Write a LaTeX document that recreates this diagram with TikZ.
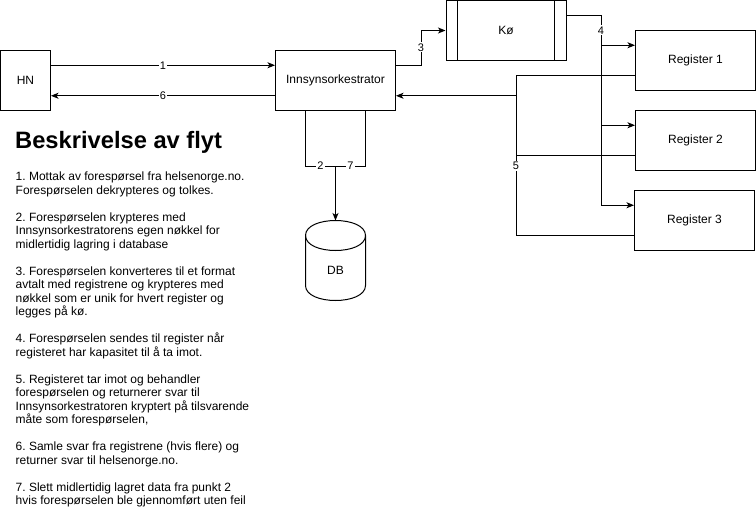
\documentclass[tikz,border=0pt]{standalone}
\usepackage{fontspec}
\setmainfont{Liberation Sans}
\usetikzlibrary{arrows.meta,calc}
\frenchspacing
\begin{document}
\begin{tikzpicture}[x=1pt,y=-1pt,
  ln/.style={line width=1pt, draw=black},
  arr/.style={ln, -{Stealth[length=7.5pt,width=6pt,inset=2pt]}},
  box/.style={draw, line width=1pt, minimum width=120pt, minimum height=60pt, inner sep=0pt, font=\fontsize{12}{14}\selectfont},
  lbl/.style={fill=white, inner sep=1pt, font=\fontsize{11}{13}\selectfont},
  txt/.style={anchor=base west, inner sep=0pt, font=\fontsize{12}{13.5}\selectfont\frenchspacing},
  ttl/.style={anchor=base west, inner sep=0pt, font=\fontsize{23.7}{28}\selectfont\bfseries},
]
\useasboundingbox (0,0) rectangle (756,531);

% boxes
\node[box, minimum width=50pt] (hn) at (25.5,80.5) {HN};
\node[box] (orch) at (335.5,80.5) {Innsynsorkestrator};
\node[box] (ko) at (506,30.5) {Kø};
\draw[ln] ($(ko.north west)+(12,0)$) -- ($(ko.south west)+(12,0)$);
\draw[ln] ($(ko.north east)+(-12,0)$) -- ($(ko.south east)+(-12,0)$);
\node[box] (r1) at (695.5,60.5) {Register 1};
\node[box] (r2) at (695.5,140.5) {Register 2};
\node[box] (r3) at (694.5,220.5) {Register 3};

% database cylinder
\node[minimum width=60pt, minimum height=80pt, inner sep=0pt, outer sep=0pt] (db) at (335.5,260.5) {};
\draw[ln] ($(db.north west)+(0,15)$) .. controls ($(db.north west)+(0,-5)$) and ($(db.north east)+(0,-5)$) .. ($(db.north east)+(0,15)$)
  -- ($(db.south east)+(0,-15)$) .. controls ($(db.south east)+(0,5)$) and ($(db.south west)+(0,5)$) .. ($(db.south west)+(0,-15)$) -- cycle;
\draw[ln] ($(db.north west)+(0,15)$) .. controls ($(db.north west)+(0,35)$) and ($(db.north east)+(0,35)$) .. ($(db.north east)+(0,15)$);
\node[font=\fontsize{12}{14}\selectfont, inner sep=0pt] (dblbl) at ($(db.center)+(0,9.5)$) {DB};

% anchor points
\coordinate (hnA) at ($(hn.north east)!0.25!(hn.south east)$);
\coordinate (hnB) at ($(hn.north east)!0.75!(hn.south east)$);
\coordinate (orA) at ($(orch.north west)!0.25!(orch.south west)$);
\coordinate (orB) at ($(orch.north west)!0.75!(orch.south west)$);
\coordinate (orC) at ($(orch.north east)!0.25!(orch.south east)$);
\coordinate (orD) at ($(orch.north east)!0.75!(orch.south east)$);
\coordinate (orE) at ($(orch.south west)!0.25!(orch.south east)$);
\coordinate (orF) at ($(orch.south west)!0.75!(orch.south east)$);
\coordinate (koO) at ($(ko.north east)!0.25!(ko.south east)$);
\coordinate (r1i) at ($(r1.north west)!0.25!(r1.south west)$);
\coordinate (r1o) at ($(r1.north west)!0.75!(r1.south west)$);
\coordinate (r2i) at ($(r2.north west)!0.25!(r2.south west)$);
\coordinate (r2o) at ($(r2.north west)!0.75!(r2.south west)$);
\coordinate (r3i) at ($(r3.north west)!0.25!(r3.south west)$);
\coordinate (r3o) at ($(r3.north west)!0.75!(r3.south west)$);

% 1 and 6
\draw[arr] (hnA) -- node[lbl]{1} (orA);
\draw[arr] (orB) -- node[lbl]{6} (hnB);

% 3
\draw[arr] (orC) -- ++(25,0) coordinate (c3) |- (ko.west);
\node[lbl] (l3) at ($(c3)+(0,-18)$) {3};

% 4
\coordinate (b4) at ($(koO)+(34.5,0)$);
\draw[ln] (koO) -- (b4) -- (b4 |- r3i);
\draw[arr] (b4 |- r1i) -- (r1i);
\draw[arr] (b4 |- r2i) -- (r2i);
\draw[arr] (b4 |- r3i) -- (r3i);
\node[lbl] (l4) at ($(b4)+(0,15)$) {4};

% 5
\coordinate (b5) at ($(orD)+(120,0)$);
\draw[ln] (r1o) -| (b5);
\draw[ln] (r3o) -| (b5);
\draw[ln] (r2o) -- (b5 |- r2o);
\draw[arr] (b5) -- (orD);
\node[lbl] (l5) at ($(b5)+(0,70)$) {5};

% 2 and 7
\coordinate (j27) at ($(orch.south)+(0,55)$);
\draw[ln] (orE) |- (j27);
\draw[ln] (orF) |- (j27);
\node[lbl] (l2) at ($(j27)+(-15,0)$) {2};
\node[lbl] (l7) at ($(j27)+(15,0)$) {7};
\draw[arr] (j27) -- (db.north);

% description
\node[ttl] (title) at (15,148) {Beskrivelse av flyt};
\node[txt] (t0)  at (15.5,180.7) {1. Mottak av forespørsel fra helsenorge.no.};
\node[txt] (t1)  at (15.5,194.2) {Forespørselen dekrypteres og tolkes.};
\node[txt] (t3)  at (15.5,221.2) {2. Forespørselen krypteres med};
\node[txt] (t4)  at (15.5,234.7) {Innsynsorkestratorens egen nøkkel for};
\node[txt] (t5)  at (15.5,248.2) {midlertidig lagring i database};
\node[txt] (t7)  at (15.5,275.2) {3. Forespørselen konverteres til et format};
\node[txt] (t8)  at (15.5,288.7) {avtalt med registrene og krypteres med};
\node[txt] (t9)  at (15.5,302.2) {nøkkel som er unik for hvert register og};
\node[txt] (t10) at (15.5,315.7) {legges på kø.};
\node[txt] (t12) at (15.5,342.7) {4. Forespørselen sendes til register når};
\node[txt] (t13) at (15.5,356.2) {registeret har kapasitet til å ta imot.};
\node[txt] (t15) at (15.5,383.2) {5. Registeret tar imot og behandler};
\node[txt] (t16) at (15.5,396.7) {forespørselen og returnerer svar til};
\node[txt] (t17) at (15.5,410.2) {Innsynsorkestratoren kryptert på tilsvarende};
\node[txt] (t18) at (15.5,423.7) {måte som forespørselen,};
\node[txt] (t20) at (15.5,450.7) {6. Samle svar fra registrene (hvis flere) og};
\node[txt] (t21) at (15.5,464.2) {returner svar til helsenorge.no.};
\node[txt] (t23) at (15.5,491.2) {7. Slett midlertidig lagret data fra punkt 2};
\node[txt] (t24) at (15.5,504.7) {hvis forespørselen ble gjennomført uten feil};
\end{tikzpicture}
\end{document}
